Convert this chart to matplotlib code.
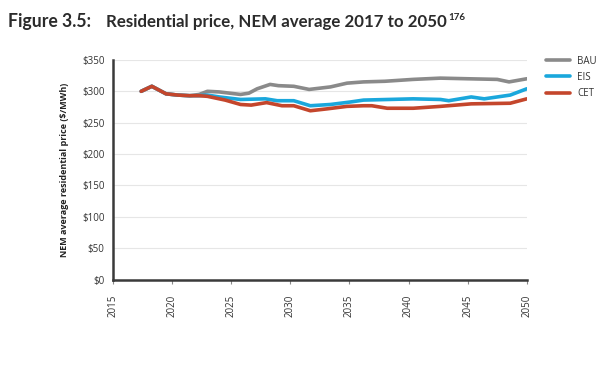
import matplotlib
matplotlib.use("Agg")
import matplotlib.pyplot as plt
from matplotlib.ticker import FuncFormatter

plt.rcParams['font.family'] = ['Open Sans', 'DejaVu Sans']

bau_years = [2017.4, 2018.3, 2019.5, 2020.5, 2021.5, 2022.3, 2023.0, 2024.0, 2025.8, 2026.5,
             2027.2, 2028.3, 2029.0, 2030.3, 2031.6, 2033.4, 2034.8, 2036.2, 2038.0, 2040.4,
             2042.7, 2045.0, 2047.5, 2048.5, 2050.0]
bau_vals = [300, 308, 296, 294, 293, 295, 300, 299, 295, 297,
            304, 311, 309, 308, 303, 307, 313, 315, 316, 319,
            321, 320, 319, 315, 320]

eis_years = [2017.4, 2018.3, 2019.5, 2020.5, 2021.5, 2022.3, 2023.0, 2024.0, 2025.8, 2027.9,
             2028.9, 2030.3, 2031.7, 2033.4, 2035.1, 2036.2, 2040.4, 2042.7, 2043.4, 2045.3,
             2046.4, 2048.6, 2050.0]
eis_vals = [300, 308, 296, 294, 293, 293, 294, 291, 287, 288,
            285, 285, 277, 279, 283, 286, 288, 287, 285, 291,
            288, 294, 304]

cet_years = [2017.4, 2018.3, 2019.5, 2020.5, 2021.5, 2022.3, 2023.0, 2024.5, 2025.8, 2026.7,
             2028.0, 2029.3, 2030.3, 2031.7, 2033.1, 2034.8, 2036.2, 2036.9, 2038.2, 2040.4,
             2042.7, 2045.3, 2048.6, 2050.0]
cet_vals = [300, 308, 296, 294, 293, 293, 292, 286, 279, 278,
            282, 277, 277, 269, 272, 276, 277, 277, 273, 273,
            276, 280, 281, 288]

x_ticks = [2015, 2020, 2025, 2030, 2035, 2040, 2045, 2050]
y_ticks = [0, 50, 100, 150, 200, 250, 300, 350]

fig = plt.figure(figsize=(6.0, 3.77), dpi=100)
ax = fig.add_axes([0.188, 0.2586, 0.69, 0.5824])

ax.plot(bau_years, bau_vals, color='#8a8a8a', lw=2.6, label='BAU', solid_capstyle='round')
ax.plot(eis_years, eis_vals, color='#1aa7dc', lw=2.6, label='EIS', solid_capstyle='round')
ax.plot(cet_years, cet_vals, color='#c4462c', lw=2.6, label='CET', solid_capstyle='round')

ax.set_xlim(2015, 2050)
ax.set_ylim(0, 350)
ax.set_xticks(x_ticks)
ax.set_yticks(y_ticks)
ax.yaxis.set_major_formatter(FuncFormatter(lambda v, p: f"${int(v)}"))
ax.grid(axis='y', color='#e6e6e6', lw=0.8)
ax.set_axisbelow(True)
for s in ['top', 'right']:
    ax.spines[s].set_visible(False)
ax.spines['left'].set_color('#3a3a3a')
ax.spines['left'].set_linewidth(1.8)
ax.spines['bottom'].set_color('#3a3a3a')
ax.spines['bottom'].set_linewidth(1.8)
ax.tick_params(axis='y', length=0, pad=6, labelsize=7, labelcolor='#333333')
ax.tick_params(axis='x', length=3, width=0.8, color='#888888', pad=8, labelsize=7,
               labelcolor='#333333', labelrotation=90)

ax.set_ylabel('NEM average residential price ($/MWh)', fontsize=6.5, fontweight='bold',
              color='#222222', labelpad=9)

leg = ax.legend(loc='upper left', bbox_to_anchor=(1.025, 1.06), frameon=False, fontsize=7,
                handlelength=2.5, handletextpad=0.7, labelspacing=0.55)
for t in leg.get_texts():
    t.set_color('#333333')

tf = ['Lato', 'DejaVu Sans']
fig.text(8/600, 1 - 22/377, 'Figure 3.5:', fontsize=12.7, fontweight='bold', color='#2b2b2b',
         va='center', ha='left', family=tf)
t2 = fig.text(106/600, 1 - 22/377, 'Residential price, NEM average 2017 to 2050', fontsize=12.2,
              fontweight='bold', color='#2b2b2b', va='center', ha='left', family=tf)
fig.canvas.draw()
bb = t2.get_window_extent()
fig.text((bb.x1 + 1) / 600, 1 - 17/377, '176', fontsize=7, fontweight='bold',
         color='#2b2b2b', va='center', ha='left', family=tf)

fig.savefig('out.png', dpi=100)
